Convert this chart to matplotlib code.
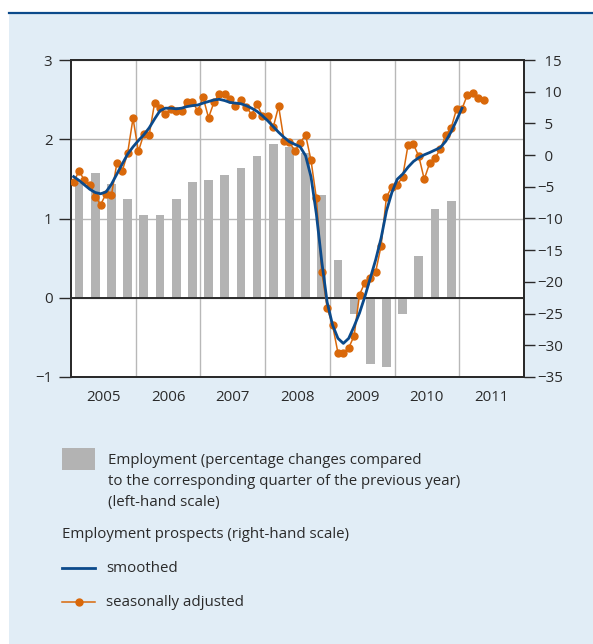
import matplotlib.pyplot as plt
from matplotlib.patches import Rectangle
from matplotlib.lines import Line2D
from matplotlib.ticker import FixedLocator, FixedFormatter, NullFormatter

plt.rcParams['font.family'] = ['Open Sans', 'DejaVu Sans']

# employment, % change on year, quarterly 2005Q1 - 2010Q4 (left scale)
employment = [1.45, 1.58, 1.43, 1.24, 1.04, 1.04, 1.24, 1.46,
              1.49, 1.55, 1.64, 1.79, 1.94, 1.90, 1.83, 1.30,
              0.48, -0.20, -0.84, -0.87, -0.21, 0.53, 1.12, 1.22]

# employment prospects, monthly Jan 2005 - May 2011 (right scale)
seas_adj = [-4.2, -2.5, -4.0, -4.7, -6.6, -7.8, -6.1, -6.3, -1.3, -2.5, 0.3, 5.8,
            0.6, 3.3, 3.2, 8.2, 7.5, 6.5, 7.2, 6.9, 6.9, 8.4, 8.4, 7.0,
            9.1, 5.9, 8.3, 9.7, 9.7, 8.9, 7.7, 8.7, 7.6, 6.4, 8.0, 6.2,
            6.2, 4.4, 7.7, 2.3, 2.0, 0.7, 1.9, 3.2, -0.8, -6.8, -18.4, -24.1,
            -26.8, -31.2, -31.2, -30.4, -28.5, -22.0, -20.1, -19.4, -18.4, -14.3, -6.6, -5.0,
            -4.7, -3.4, 1.6, 1.7, -0.2, -3.8, -1.3, -0.4, 0.9, 3.2, 4.3, 7.3,
            7.3, 9.5, 9.8, 9.0, 8.7]

# smoothed, monthly Jan 2005 - Jan 2011
smoothed = [-3.4, -4.0, -4.7, -5.4, -5.9, -6.1, -5.8, -4.6, -3.0, -1.4, 0.15, 1.3,
            2.3, 3.2, 4.3, 5.7, 7.0, 7.4, 7.4, 7.3, 7.4, 7.65, 7.8, 7.9,
            8.2, 8.45, 8.7, 8.8, 8.6, 8.3, 8.2, 8.1, 7.8, 7.4, 6.9, 6.2,
            5.4, 4.5, 3.6, 2.8, 2.1, 1.7, 1.3, -0.1, -3.4, -9.3, -16.8, -23.2,
            -26.8, -28.9, -29.7, -28.9, -27.0, -24.9, -22.3, -19.4, -16.5, -13.1, -8.8, -5.9,
            -3.8, -3.0, -1.9, -1.0, -0.4, 0.05, 0.4, 0.8, 1.2, 2.2, 3.7, 5.5,
            7.4]

years = [2005, 2006, 2007, 2008, 2009, 2010, 2011]
left_ticks = [-1, 0, 1, 2, 3]
right_ticks = [-35, -30, -25, -20, -15, -10, -5, 0, 5, 10, 15]

grey = '#b3b3b3'
orange = '#d9680a'
blue = '#0b4a8b'
panel = '#e1edf6'
dark = '#2a2a2a'

W, H = 593, 644
fig = plt.figure(figsize=(W / 100, H / 100), dpi=100)

# background panel + legend, drawn in pixel coordinates
bg = fig.add_axes([0, 0, 1, 1], zorder=0)
bg.set_xlim(0, W)
bg.set_ylim(H, 0)
bg.axis('off')
bg.add_patch(Rectangle((9, 13), W - 9, H - 13, color=panel, lw=0))
bg.plot([9, W], [12.5, 12.5], color=blue, lw=1.6)

bg.add_patch(Rectangle((62, 448), 33, 22, color=grey, lw=0))
fs = 10.8
for i, line in enumerate(['Employment (percentage changes compared',
                          'to the corresponding quarter of the previous year)',
                          '(left-hand scale)']):
    bg.text(108, 460 + 21 * i, line, fontsize=fs, va='center', color=dark)
bg.text(62, 535, 'Employment prospects (right-hand scale)', fontsize=fs, va='center', color=dark)
bg.add_line(Line2D([62, 95], [568, 568], color=blue, lw=2))
bg.text(106, 568, 'smoothed', fontsize=fs, va='center', color=dark)
bg.add_line(Line2D([62, 95], [602, 602], color=orange, lw=1.1))
bg.plot([79], [602], 'o', color=orange, ms=5)
bg.text(106, 602, 'seasonally adjusted', fontsize=fs, va='center', color=dark)

# main chart
ax = fig.add_axes([71 / W, 1 - 377 / H, 453 / W, 317 / H], zorder=2)
ax.set_facecolor('white')
q_x = [2005 + (i + 0.5) / 4 for i in range(len(employment))]
ax.bar(q_x, employment, width=0.135, color=grey, zorder=2)
ax.axhline(0, color=dark, lw=1.4, zorder=3)
ax.set_xlim(2005, 2012)
ax.set_ylim(-1, 3)
ax.set_yticks(left_ticks)
ax.yaxis.grid(True, color='#b8b8b8', lw=1)
ax.xaxis.set_major_locator(FixedLocator(years[1:]))
ax.xaxis.set_major_formatter(NullFormatter())
ax.xaxis.set_minor_locator(FixedLocator([y + 0.5 for y in years]))
ax.xaxis.set_minor_formatter(FixedFormatter([str(y) for y in years]))
ax.xaxis.grid(True, which='major', color='#b8b8b8', lw=1)
ax.set_axisbelow(True)
ax.tick_params(axis='x', which='both', length=0, pad=9.5, labelsize=fs, labelcolor=dark)
ax.tick_params(axis='y', length=8.4, width=1, color=dark, pad=5, labelsize=fs, labelcolor=dark)
for s in ax.spines.values():
    s.set_color(dark)
    s.set_linewidth(1.3)

ax2 = ax.twinx()
m_x = [2005 + (i + 0.5) / 12 for i in range(len(seas_adj))]
ax2.plot(m_x, seas_adj, color=orange, lw=1.1, marker='o', ms=5, zorder=3)
ax2.plot(m_x[:len(smoothed)], smoothed, color=blue, lw=2, zorder=4)
ax2.set_ylim(-35, 15)
ax2.set_yticks(right_ticks)
ax2.set_yticklabels([('\u2212' + str(-v)) if v < 0 else '\u2002' + str(v) for v in right_ticks])
ax2.tick_params(axis='y', length=8, width=1, color=dark, pad=1.5, labelsize=fs, labelcolor=dark)
for s in ax2.spines.values():
    s.set_color(dark)
    s.set_linewidth(1.3)

fig.savefig('out.png', dpi=100)
